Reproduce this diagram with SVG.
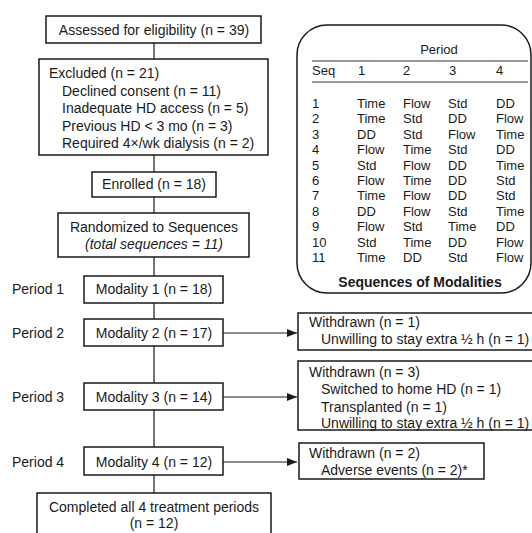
<svg xmlns="http://www.w3.org/2000/svg" width="532" height="533" viewBox="0 0 532 533">
<defs>
<marker id="ah" markerWidth="10" markerHeight="8" refX="10" refY="4" orient="auto" markerUnits="userSpaceOnUse">
<path d="M0,0 L10,4 L0,8 Z" fill="#1a1a1a"/>
</marker>
</defs>
<style>
text{font-family:"Liberation Sans",Arial,Helvetica,sans-serif;font-size:14px;fill:#1a1a1a}
.box{fill:#fff;stroke:#1a1a1a;stroke-width:1.5}
.c{text-anchor:middle}
.t{font-size:13px}
.conn line{stroke:#1a1a1a;stroke-width:1.2}
.rule{stroke:#333;stroke-width:1}
</style>
<rect width="532" height="533" fill="#fff"/>
<g class="conn">
<line x1="154" y1="43" x2="154" y2="59"/>
<line x1="154" y1="155" x2="154" y2="172"/>
<line x1="154" y1="197" x2="154" y2="213"/>
<line x1="154" y1="257" x2="154" y2="276"/>
<line x1="154" y1="303" x2="154" y2="319"/>
<line x1="154" y1="346" x2="154" y2="383"/>
<line x1="154" y1="410" x2="154" y2="447"/>
<line x1="154" y1="475" x2="154" y2="493"/>
<line x1="223" y1="333" x2="297" y2="333" marker-end="url(#ah)"/>
<line x1="223" y1="397" x2="297" y2="397" marker-end="url(#ah)"/>
<line x1="223" y1="462" x2="297" y2="462" marker-end="url(#ah)"/>
</g>
<g id="assessed"><rect class="box" x="46" y="16" width="215" height="27"/><text class="c" x="154" y="35">Assessed for eligibility (n = 39)</text></g>
<g id="excluded"><rect class="box" x="39" y="59" width="229" height="96"/>
<text x="49" y="78">Excluded (n = 21)</text>
<text x="62" y="95.5">Declined consent (n = 11)</text>
<text x="62" y="113">Inadequate HD access (n = 5)</text>
<text x="62" y="130.5">Previous HD &lt; 3 mo (n = 3)</text>
<text x="62" y="148">Required 4×/wk dialysis (n = 2)</text></g>
<g id="enrolled"><rect class="box" x="92" y="172" width="124" height="25"/><text class="c" x="154" y="189">Enrolled (n = 18)</text></g>
<g id="randomized"><rect class="box" x="58" y="213" width="191" height="44"/><text class="c" x="154" y="232">Randomized to Sequences</text><text class="c" x="154" y="249" font-style="italic">(total sequences = 11)</text></g>
<g id="mod1"><text x="12" y="294">Period 1</text><rect class="box" x="84" y="276" width="139" height="27"/><text class="c" x="154" y="294">Modality 1 (n = 18)</text></g>
<g id="mod2"><text x="12" y="338">Period 2</text><rect class="box" x="84" y="319" width="139" height="27"/><text class="c" x="154" y="338">Modality 2 (n = 17)</text></g>
<g id="mod3"><text x="12" y="402">Period 3</text><rect class="box" x="84" y="383" width="139" height="27"/><text class="c" x="154" y="402">Modality 3 (n = 14)</text></g>
<g id="mod4"><text x="12" y="467">Period 4</text><rect class="box" x="84" y="447" width="139" height="28"/><text class="c" x="154" y="467">Modality 4 (n = 12)</text></g>
<g id="completed"><rect class="box" x="37" y="493" width="234" height="50"/><text class="c" x="154" y="512">Completed all 4 treatment periods</text><text class="c" x="154" y="528">(n = 12)</text></g>
<g id="withdrawn1"><rect class="box" x="298" y="313" width="250" height="37"/><text x="309" y="327">Withdrawn (n = 1)</text><text x="321" y="344">Unwilling to stay extra ½ h (n = 1)</text></g>
<g id="withdrawn2"><rect class="box" x="298" y="361" width="250" height="69"/><text x="309" y="377">Withdrawn (n = 3)</text><text x="321" y="394">Switched to home HD (n = 1)</text><text x="321" y="411.5">Transplanted (n = 1)</text><text x="321" y="428">Unwilling to stay extra ½ h (n = 1)</text></g>
<g id="withdrawn3"><rect class="box" x="299" y="443" width="185" height="36"/><text x="309" y="458">Withdrawn (n = 2)</text><text x="321" y="475">Adverse events (n = 2)*</text></g>
<g id="table">
<rect class="box" x="297" y="25" width="234" height="268" rx="30" ry="30"/>
<text class="c t" x="439" y="54">Period</text>
<line class="rule" x1="312" y1="61" x2="528" y2="61"/>
<text class="t" x="312" y="75">Seq</text><text class="t" x="358" y="75">1</text><text class="t" x="403" y="75">2</text><text class="t" x="449" y="75">3</text><text class="t" x="496" y="75">4</text>
<line class="rule" x1="312" y1="82" x2="528" y2="82"/>
<g>
<text class="t" x="312" y="108">1</text><text class="t" x="357" y="108">Time</text><text class="t" x="403" y="108">Flow</text><text class="t" x="448" y="108">Std</text><text class="t" x="496" y="108">DD</text>
<text class="t" x="312" y="123.4">2</text><text class="t" x="357" y="123.4">Time</text><text class="t" x="403" y="123.4">Std</text><text class="t" x="448" y="123.4">DD</text><text class="t" x="496" y="123.4">Flow</text>
<text class="t" x="312" y="138.8">3</text><text class="t" x="357" y="138.8">DD</text><text class="t" x="403" y="138.8">Std</text><text class="t" x="448" y="138.8">Flow</text><text class="t" x="496" y="138.8">Time</text>
<text class="t" x="312" y="154.2">4</text><text class="t" x="357" y="154.2">Flow</text><text class="t" x="403" y="154.2">Time</text><text class="t" x="448" y="154.2">Std</text><text class="t" x="496" y="154.2">DD</text>
<text class="t" x="312" y="169.6">5</text><text class="t" x="357" y="169.6">Std</text><text class="t" x="403" y="169.6">Flow</text><text class="t" x="448" y="169.6">DD</text><text class="t" x="496" y="169.6">Time</text>
<text class="t" x="312" y="185">6</text><text class="t" x="357" y="185">Flow</text><text class="t" x="403" y="185">Time</text><text class="t" x="448" y="185">DD</text><text class="t" x="496" y="185">Std</text>
<text class="t" x="312" y="200.4">7</text><text class="t" x="357" y="200.4">Time</text><text class="t" x="403" y="200.4">Flow</text><text class="t" x="448" y="200.4">DD</text><text class="t" x="496" y="200.4">Std</text>
<text class="t" x="312" y="215.8">8</text><text class="t" x="357" y="215.8">DD</text><text class="t" x="403" y="215.8">Flow</text><text class="t" x="448" y="215.8">Std</text><text class="t" x="496" y="215.8">Time</text>
<text class="t" x="312" y="231.2">9</text><text class="t" x="357" y="231.2">Flow</text><text class="t" x="403" y="231.2">Std</text><text class="t" x="448" y="231.2">Time</text><text class="t" x="496" y="231.2">DD</text>
<text class="t" x="312" y="246.6">10</text><text class="t" x="357" y="246.6">Std</text><text class="t" x="403" y="246.6">Time</text><text class="t" x="448" y="246.6">DD</text><text class="t" x="496" y="246.6">Flow</text>
<text class="t" x="312" y="262">11</text><text class="t" x="357" y="262">Time</text><text class="t" x="403" y="262">DD</text><text class="t" x="448" y="262">Std</text><text class="t" x="496" y="262">Flow</text>
</g>
<text class="c" x="420" y="287" font-weight="bold">Sequences of Modalities</text>
</g>
</svg>
